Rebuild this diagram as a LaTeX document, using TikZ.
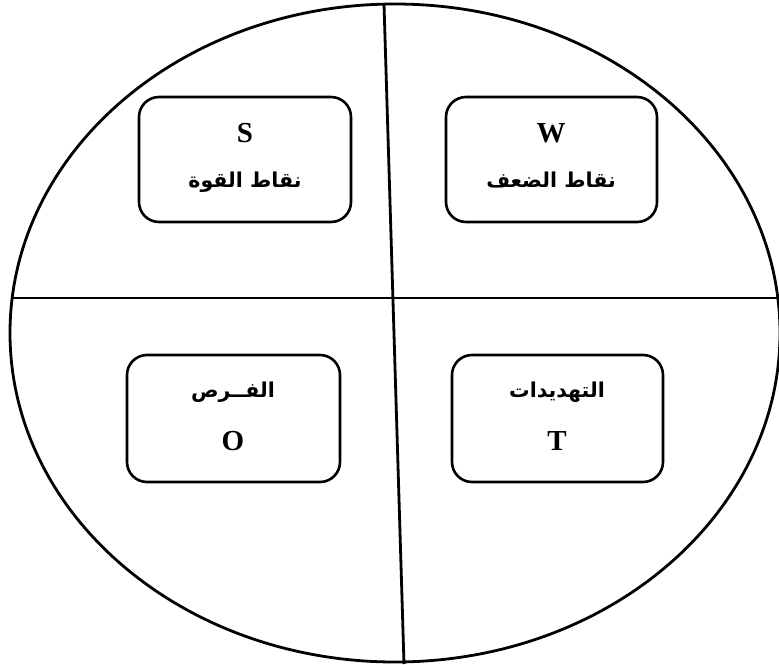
\documentclass[tikz,border=0pt]{standalone}
\usepackage{fontspec}
\setmainfont{Liberation Serif}
\newfontfamily\arabicfont[Script=Arabic]{DejaVu Sans}
\TeXXeTstate=1
\begin{document}
\begin{tikzpicture}[x=1pt,y=-1pt,
  quad/.style={draw=black,line width=2.6pt,rounded corners=20pt,inner sep=0pt,minimum width=212pt,minimum height=125pt},
  divline/.style={draw=black,line width=2.8pt},
  latin/.style={font=\fontsize{29}{32}\selectfont\bfseries,anchor=base,inner sep=0pt},
  arab/.style={font=\arabicfont\fontsize{20.5}{24}\selectfont\bfseries,anchor=base,inner sep=0pt}]
\useasboundingbox (0,0) rectangle (779,664);
\fill[white] (0,0) rectangle (779,664);
\draw[divline] (395,333) ellipse [x radius=385pt, y radius=329pt];
\coordinate (vt) at (384,4);
\coordinate (vb) at (404,664);
\coordinate (hl) at (12,298);
\coordinate (hr) at (780,298);
\draw[divline] (vt) -- (vb);
\draw[divline] (hl) -- (hr);
\node[quad] (sbox) at (245,159.5) {};
\node[quad,minimum width=211pt] (wbox) at (551.5,159.5) {};
\node[quad,minimum width=213pt,minimum height=127pt] (obox) at (233.5,418.5) {};
\node[quad,minimum width=211pt,minimum height=127pt] (tbox) at (557.5,418.5) {};
\node[latin] (s) at (245,142.5) {S};
\node[arab] (sa) at (245,187) {\beginR نقاط القوة\endR};
\node[latin] (w) at (551,142.5) {W};
\node[arab] (wa) at (551,187) {\beginR نقاط الضعف\endR};
\node[arab] (oa) at (233,397) {\beginR الفــرص\endR};
\node[latin] (o) at (233,450) {O};
\node[arab] (ta) at (557,397) {\beginR التهديدات\endR};
\node[latin] (t) at (557,450) {T};
\end{tikzpicture}
\end{document}
